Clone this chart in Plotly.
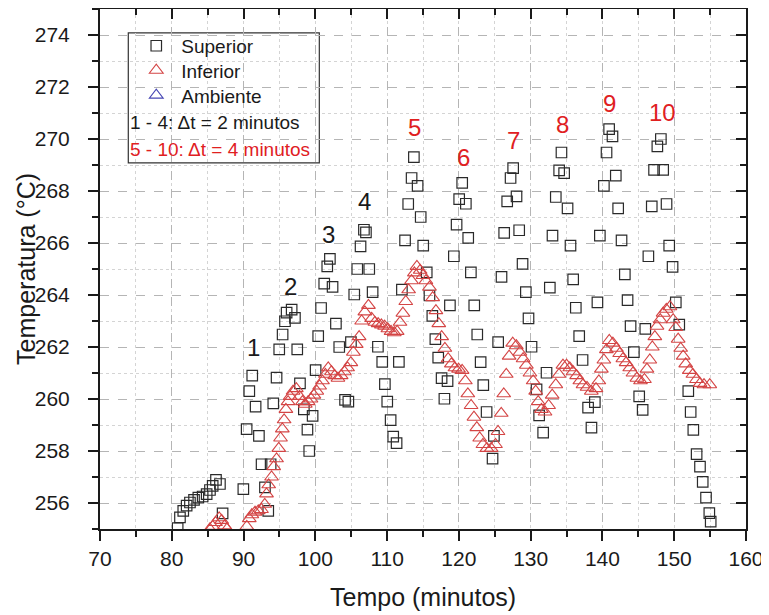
import plotly.graph_objects as go

# ---------------- data ----------------
sup_t = [80.82, 81.14, 81.6, 82.07, 82.53, 83.1, 83.7, 84.3, 84.86, 85.32, 85.7, 86.16, 86.71, 87.08,
         89.97, 90.43, 90.8, 91.21, 91.68, 92.14, 92.51, 92.98, 93.44, 93.77, 94.14, 94.6, 94.97,
         95.44, 95.77, 96.0, 96.7, 97.16, 97.48, 97.86, 98.4, 98.9, 99.15, 99.62, 100.04, 100.4,
         100.8, 101.24, 101.66, 102.03, 102.4, 102.87, 103.33, 104.14, 104.6, 104.96, 105.42,
         105.84, 106.3, 106.77, 107.05, 107.51, 107.98, 108.72, 109.32, 109.69, 110.02, 110.49,
         110.85, 111.32, 111.64, 112.06, 112.5, 112.94, 113.41, 113.73, 114.25, 114.68, 115.03,
         115.52, 115.9, 116.3, 116.72, 117.12, 117.59, 117.98, 118.42, 118.75, 119.3, 119.68,
         120.04, 120.46, 120.97, 121.3, 121.67, 122.14, 122.56, 123.03, 123.4, 123.86, 124.69,
         124.88, 125.47, 125.94, 126.31, 126.73, 127.2, 127.56, 128.03, 128.4, 128.87, 129.33,
         129.7, 130.12, 130.82, 131.18, 131.74, 132.21, 132.67, 133.04, 133.5, 133.97, 134.29,
         134.66, 135.14, 135.55, 135.92, 136.29, 136.76, 137.23, 138.0, 138.47, 138.94, 139.3,
         139.64, 140.2, 140.57, 140.93, 141.4, 141.86, 142.19, 142.66, 143.12, 143.5, 143.92,
         144.38, 145.12, 145.6, 145.97, 146.4, 146.87, 147.19, 147.65, 148.14, 148.46, 148.93,
         149.3, 149.77, 150.22, 150.7, 151.96, 152.29, 152.66, 153.12, 153.59, 153.97, 154.43,
         154.89, 155.08]
sup_temp = [255.03, 255.45, 255.7, 255.9, 256.02, 256.12, 256.21, 256.25, 256.34, 256.5, 256.66, 256.89,
            256.73, 255.6, 256.53, 258.84, 260.3, 260.9, 259.71, 258.58, 257.49, 256.6, 255.7, 257.49,
            259.83, 260.82, 261.91, 262.48, 262.99, 263.32, 263.44, 263.12, 261.91, 260.6, 259.6,
            258.82, 258.0, 259.35, 261.11, 262.42, 263.5, 264.44, 265.1, 265.39, 264.31, 262.9, 262.0,
            259.97, 259.9, 262.19, 264.02, 265.0, 265.87, 266.51, 266.41, 265.0, 264.11, 262.01,
            261.43, 260.57, 259.9, 259.19, 258.55, 258.3, 261.43, 264.21, 266.1, 267.5, 268.5, 269.3,
            268.2, 267.0, 265.9, 264.87, 263.98, 263.2, 262.3, 261.59, 260.8, 260.01, 260.69, 263.6,
            265.49, 266.71, 267.69, 268.31, 267.51, 266.2, 264.87, 263.6, 262.48, 261.42, 260.53,
            259.5, 257.71, 258.58, 262.19, 264.7, 266.39, 267.6, 268.5, 268.88, 267.79, 266.49, 265.2,
            264.11, 263.1, 262.01, 260.37, 259.37, 258.71, 261.01, 264.28, 266.28, 267.77, 268.79,
            269.48, 268.69, 267.33, 265.9, 264.6, 263.51, 262.42, 261.5, 259.67, 258.9, 259.88,
            263.72, 266.28, 268.2, 269.48, 270.38, 270.1, 268.59, 267.33, 266.1, 264.79, 263.8, 262.8,
            261.8, 260.1, 259.58, 262.7, 265.49, 267.41, 268.81, 269.72, 270.0, 268.81, 267.5, 265.9,
            265.08, 263.72, 262.86, 260.3, 259.5, 258.81, 257.88, 257.4, 256.81, 256.21, 255.61,
            255.28]

inf_t = [85.3, 85.7, 86.1, 86.6, 86.95, 87.35, 87.7,
         90.45, 90.8, 91.15, 91.6, 92.05, 92.5, 92.95, 93.2, 93.5, 93.9, 94.2, 94.6, 94.9, 95.15,
         95.4, 95.65, 95.9, 96.2, 96.5, 96.9, 97.35, 97.8, 98.2, 98.6, 99.0, 99.4, 99.8, 100.2,
         100.6, 101.0, 101.4, 101.8, 102.25, 102.7, 103.15, 103.6, 104.05, 104.5, 104.95, 105.3,
         105.7, 106.1, 106.45, 106.9, 107.4, 107.85, 108.3, 108.75, 109.2, 109.65, 110.1, 110.55,
         111.0, 111.4, 111.8, 112.2, 112.6, 113.0, 113.4, 113.8, 114.15, 114.6, 115.0, 115.4,
         115.9, 116.35, 116.8, 117.2, 117.6, 118.05, 118.5, 118.95, 119.45, 119.95, 120.45, 120.9,
         121.25, 121.7, 122.1, 122.5, 122.9, 123.35, 123.9, 124.5, 125.1, 125.45, 125.9, 126.25,
         126.6, 127.0, 127.5, 128.0, 128.5, 128.95, 129.4, 129.9, 130.35, 130.7, 131.05, 131.5,
         132.0, 132.5, 133.0, 133.5, 133.95, 134.5, 135.0, 135.45, 135.9, 136.4, 136.85, 137.3,
         137.85, 138.45, 139.1, 139.5, 139.85, 140.2, 140.55, 140.95, 141.45, 141.95, 142.4,
         142.85, 143.3, 143.8, 144.25, 144.8, 145.3, 145.85, 146.2, 146.6, 146.95, 147.3, 147.6,
         148.05, 148.45, 148.9, 149.4, 149.85, 150.2, 150.55, 150.9, 151.25, 151.6, 152.1, 152.6,
         153.1, 153.6, 154.15, 154.95]
inf_temp = [255.0, 255.1, 255.25, 255.43, 255.33, 255.12, 255.0,
            255.1, 255.4, 255.55, 255.65, 255.7, 255.75, 255.95, 256.35, 256.7, 257.0, 257.4, 257.7,
            258.1, 258.5, 258.85, 259.2, 259.6, 259.9, 260.1, 260.3, 260.4, 260.1, 259.9, 259.8,
            259.9, 260.0, 260.15, 260.3, 260.5, 260.7, 260.95, 261.2, 261.05, 260.9, 260.8, 260.9,
            261.05, 261.2, 261.4, 261.8, 262.1, 262.4, 263.0, 263.35, 263.6, 263.1, 262.95, 262.9,
            262.85, 262.8, 262.7, 262.6, 262.55, 262.6, 262.95, 263.3, 263.75, 264.2, 264.55, 264.85,
            265.1, 264.95, 264.75, 264.55, 264.3, 263.9, 263.4, 262.9, 262.4, 261.95, 261.55, 261.35,
            261.2, 261.15, 261.1, 260.7, 260.2, 259.75, 259.3, 258.9, 258.5, 258.25, 258.1, 258.1,
            258.25, 258.75, 259.45, 260.2, 260.95, 261.65, 262.15, 262.05, 261.8, 261.55, 261.3,
            261.0, 260.7, 260.3, 259.9, 259.6, 259.5, 259.75, 260.15, 260.55, 260.95, 261.3, 261.3,
            261.2, 261.05, 260.9, 260.7, 260.55, 260.45, 260.3, 260.4, 260.7, 261.15, 261.5, 261.9,
            262.25, 262.15, 261.95, 261.75, 261.55, 261.4, 261.2, 261.0, 260.8, 260.7, 260.75,
            261.15, 261.5, 262.0, 262.4, 262.8, 263.05, 263.3, 263.45, 263.55, 263.05, 262.75, 262.3,
            261.95, 261.65, 261.35, 261.1, 260.95, 260.75, 260.6, 260.55, 260.55]

# Ambiente series lies below the visible range (legend entry only)
amb_t = [None]
amb_temp = [None]

cycle_labels = ["1", "2", "3", "4", "5", "6", "7", "8", "9", "10"]
cycle_label_t = [91.35, 96.6, 101.8, 106.9, 113.87, 120.6, 127.56, 134.4, 141.03, 148.3]
cycle_label_temp = [261.97, 264.34, 266.32, 267.6, 270.46, 269.3, 269.94, 270.54, 271.35, 271.02]

x_ticks = [70, 80, 90, 100, 110, 120, 130, 140, 150, 160]
y_ticks = [256, 258, 260, 262, 264, 266, 268, 270, 272, 274]

x_title = "Tempo (minutos)"
y_title = "Temperatura (\u00b0C)"
note_lines = ["1 - 4: \u0394t = 2 minutos", "5 - 10: \u0394t = 4 minutos"]

# ---------------- style ----------------
FONT = "Liberation Sans, Arial, sans-serif"
BLACK = "#1a1a1a"
RED = "#e0201f"
TRI_RED = "#d44545"
BLUE = "#4646b4"

fig = go.Figure()
fig.add_trace(go.Scatter(x=sup_t, y=sup_temp, mode="markers", name="Superior",
                         marker=dict(symbol="square-open", size=10.5, color="#2a2a2a",
                                     line=dict(width=1.2)), legend="legend"))
fig.add_trace(go.Scatter(x=inf_t, y=inf_temp, mode="markers", name="Inferior",
                         marker=dict(symbol="triangle-up-open", size=12, color=TRI_RED,
                                     line=dict(width=1.1)), legend="legend2"))
fig.add_trace(go.Scatter(x=amb_t, y=amb_temp, mode="markers", name="Ambiente",
                         marker=dict(symbol="triangle-up-open", size=12, color=BLUE,
                                     line=dict(width=1.1)), legend="legend3"))
# carrier for the mirrored top/right axes
fig.add_trace(go.Scatter(x=[None], y=[None], xaxis="x2", yaxis="y2", showlegend=False,
                         hoverinfo="skip", mode="markers"))

for i, (lab, tx, ty) in enumerate(zip(cycle_labels, cycle_label_t, cycle_label_temp)):
    fig.add_annotation(x=tx, y=ty, text=lab, showarrow=False, xref="x", yref="y",
                       font=dict(family=FONT, size=24, color=BLACK if i < 4 else RED))

# axis titles
fig.add_annotation(x=0.5, y=-0.131, xref="paper", yref="paper", text=x_title, showarrow=False,
                   xanchor="center", yanchor="middle", font=dict(family=FONT, size=25, color=BLACK))
fig.add_annotation(x=-0.1146, y=0.5, xref="paper", yref="paper", text=y_title, showarrow=False,
                   textangle=-90, xanchor="center", yanchor="middle",
                   font=dict(family=FONT, size=25, color=BLACK))

# legend box and notes
fig.add_shape(type="rect", xref="paper", yref="paper", x0=0.0438, x1=0.3395, y0=0.704, y1=0.954,
              line=dict(color="#333333", width=1.2), fillcolor="white", layer="below")
fig.add_annotation(x=0.043, y=0.781, xref="paper", yref="paper", text=note_lines[0],
                   showarrow=False, xanchor="left", yanchor="middle",
                   font=dict(family=FONT, size=19, color=BLACK))
fig.add_annotation(x=0.043, y=0.729, xref="paper", yref="paper", text=note_lines[1],
                   showarrow=False, xanchor="left", yanchor="middle",
                   font=dict(family=FONT, size=19, color=RED))

leg_common = dict(font=dict(family=FONT, size=19, color=BLACK), bgcolor="rgba(0,0,0,0)",
                  borderwidth=0, xanchor="left", yanchor="middle", x=0.0484, itemwidth=40)
fig.update_layout(
    legend=dict(y=0.929, **leg_common),
    legend2=dict(y=0.882, **leg_common),
    legend3=dict(y=0.834, **leg_common),
)

axis_font = dict(family=FONT, size=21, color=BLACK)
fig.update_layout(
    width=769, height=615,
    # the page body adds an 8 px offset; margins compensate so the plot sits where the reference has it
    margin=dict(l=92, r=31, t=1, b=94, autoexpand=False),
    paper_bgcolor="white", plot_bgcolor="white",
    showlegend=True,
    xaxis=dict(range=[70, 160], tickvals=x_ticks, ticks="outside", ticklen=10, tickwidth=2,
               tickcolor=BLACK, showline=True, linewidth=2, linecolor=BLACK, mirror=True,
               tickfont=axis_font, ticklabelstandoff=0, automargin=False,
               showgrid=True, gridcolor="#b5b5b5", griddash="dash", gridwidth=1,
               zeroline=False,
               minor=dict(dtick=5, tick0=75, ticks="outside", ticklen=6, tickwidth=2, tickcolor=BLACK,
                          showgrid=True, gridcolor="#d4d4d4", griddash="dot", gridwidth=1)),
    yaxis=dict(range=[255, 275], tickvals=y_ticks, ticks="outside", ticklen=10, tickwidth=2,
               tickcolor=BLACK, showline=True, linewidth=2, linecolor=BLACK, mirror=True,
               tickfont=axis_font, ticklabelstandoff=14, automargin=False,
               showgrid=True, gridcolor="#b5b5b5", griddash="dash", gridwidth=1,
               zeroline=False,
               minor=dict(dtick=2, tick0=255, ticks="outside", ticklen=6, tickwidth=2, tickcolor=BLACK,
                          showgrid=True, gridcolor="#d4d4d4", griddash="dot", gridwidth=1)),
    xaxis2=dict(overlaying="x", side="top", range=[70, 160], tickvals=x_ticks, ticks="inside",
                ticklen=10, tickwidth=2, tickcolor=BLACK, showticklabels=False, showgrid=False,
                zeroline=False, showline=False, automargin=False,
                minor=dict(dtick=5, tick0=75, ticks="inside", ticklen=6, tickwidth=2, tickcolor=BLACK,
                           showgrid=False)),
    yaxis2=dict(overlaying="y", side="right", range=[255, 275], tickvals=y_ticks, ticks="inside",
                ticklen=10, tickwidth=2, tickcolor=BLACK, showticklabels=False, showgrid=False,
                zeroline=False, showline=False, automargin=False,
                minor=dict(dtick=2, tick0=255, ticks="inside", ticklen=6, tickwidth=2, tickcolor=BLACK,
                           showgrid=False)),
)

fig.write_html("out.html")
